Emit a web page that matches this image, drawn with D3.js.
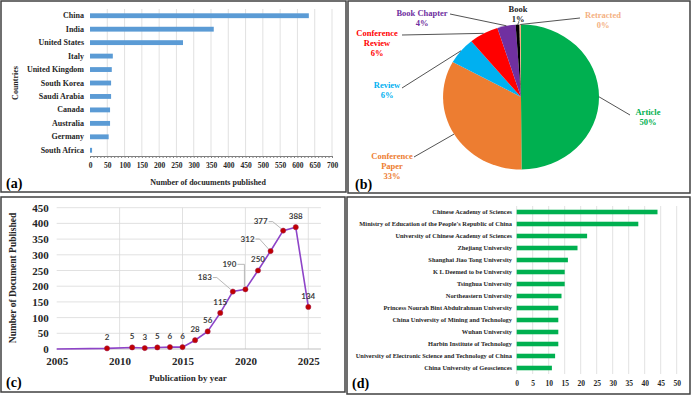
<!DOCTYPE html>
<html>
<head>
<meta charset="utf-8">
<script src="https://cdn.jsdelivr.net/npm/d3@7"></script>
<style>
  body { margin: 0; background: #fff; }
  svg text { font-family: "Liberation Serif", "Times New Roman", serif; font-weight: bold; }
</style>
</head>
<body>
<svg id="chart" width="692" height="397"></svg>
<script>
"use strict"

//---------------------------DATA-------------------------------//
// (a) documents per country
const countries = ["China", "India", "United States", "Italy", "United Kingdom", "South Korea",
    "Saudi Arabia", "Canada", "Australia", "Germany", "South Africa"];
const countryDocs = [633, 358, 269, 66, 63, 61, 61, 58, 58, 54, 6];
const countryTicks = [0, 50, 100, 150, 200, 250, 300, 350, 400, 450, 500, 550, 600, 650, 700];

// (b) document types (share of total, %)
const docTypes = ["Article", "Conference Paper", "Review", "Conference Review", "Book Chapter", "Book", "Retracted"];
const docShares = [49.9, 33.1, 6.0, 6.1, 3.8, 0.8, 0.3];
const docColors = ["#00b050", "#ed7d31", "#00b0f0", "#ff0000", "#7030a0", "#000000", "#f4b183"];

// (c) publications by year
const years = [2005, 2009, 2011, 2012, 2013, 2014, 2015, 2016, 2017, 2018, 2019, 2020, 2021, 2022, 2023, 2024, 2025];
const yearDocs = [0, 2, 5, 3, 5, 6, 6, 28, 56, 115, 183, 190, 250, 312, 377, 388, 134];
const yearTicks = [2005, 2010, 2015, 2020, 2025];
const docTicks = [0, 50, 100, 150, 200, 250, 300, 350, 400, 450];

// (d) documents per institution
const institutions = ["Chinese Academy of Sciences", "Ministry of Education of the People's Republic of China",
    "University of Chinese Academy of Sciences", "Zhejiang University", "Shanghai Jiao Tong University",
    "K L Deemed to be University", "Tsinghua University", "Northeastern University",
    "Princess Nourah Bint Abdulrahman University", "China University of Mining and Technology",
    "Wuhan University", "Harbin Institute of Technology",
    "University of Electronic Science and Technology of China", "China University of Geosciences"];
const instDocs = [44, 38, 22, 19, 16, 15, 15, 14, 13, 13, 13, 13, 12, 11];
const instTicks = [0, 5, 10, 15, 20, 25, 30, 35, 40, 45, 50];

//---------------------------LAYOUT-----------------------------//
const svg = d3.select("#chart");
const gridColor = "#d9d9d9";

// panel frames
const frames = [
    {x: 1, y: 1, w: 345, h: 191, tag: "(a)", tx: 6, ty: 188},
    {x: 348, y: 1, w: 342, h: 192, tag: "(b)", tx: 355, ty: 189},
    {x: 1, y: 197, w: 344, h: 195, tag: "(c)", tx: 6, ty: 387},
    {x: 347, y: 197, w: 343, h: 197, tag: "(d)", tx: 352, ty: 388}
];
svg.selectAll("rect.frame").data(frames).join("rect")
    .attr("class", "frame")
    .attr("x", d => d.x).attr("y", d => d.y)
    .attr("width", d => d.w).attr("height", d => d.h)
    .attr("fill", "none").attr("stroke", "#404040").attr("stroke-width", 1.5);
svg.selectAll("text.tag").data(frames).join("text")
    .attr("class", "tag")
    .attr("x", d => d.tx).attr("y", d => d.ty)
    .style("font-size", "14px")
    .text(d => d.tag);

//--------------------------(a) COUNTRIES-----------------------//
{
    const x = d3.scaleLinear().domain([0, 700]).range([90, 332]);
    const y = d3.scaleBand().domain(countries).range([9, 157]).paddingInner(0.64).paddingOuter(0.32);
    const g = svg.append("g");

    g.selectAll("line.grid").data(countryTicks.slice(1)).join("line")
        .attr("x1", d => x(d)).attr("x2", d => x(d))
        .attr("y1", 9).attr("y2", 156)
        .attr("stroke", gridColor).attr("stroke-width", 0.8);

    g.selectAll("rect.bar").data(countries).join("rect")
        .attr("x", x(0)).attr("y", d => y(d))
        .attr("width", (d, i) => x(countryDocs[i]) - x(0))
        .attr("height", y.bandwidth())
        .attr("fill", "#5b9bd5");

    // minor ticks along the axis
    const minor = g.append("g").attr("transform", "translate(0,156)")
        .call(d3.axisBottom(x).tickValues(d3.range(0, 701, 10)).tickSize(2).tickFormat(""));
    minor.select(".domain").attr("stroke", "#808080");
    minor.selectAll(".tick line").attr("stroke", "#808080");

    const xa = g.append("g").attr("transform", "translate(0,156)")
        .call(d3.axisBottom(x).tickValues(countryTicks).tickSize(0).tickPadding(7));
    xa.select(".domain").remove();
    xa.selectAll("text").style("font-size", "7.5px").style("font-family", null).attr("fill", "#262626");

    const ya = g.append("g").attr("transform", "translate(84,0)")
        .call(d3.axisLeft(y).tickSize(0).tickPadding(0));
    ya.select(".domain").remove();
    ya.selectAll("text").style("font-size", "8px").style("font-family", null).attr("fill", "#262626");

    g.append("text").attr("x", 208).attr("y", 185).attr("text-anchor", "middle")
        .style("font-size", "8px").attr("fill", "#262626").text("Number of docuuments published");
    g.append("text").attr("transform", "translate(18,83) rotate(-90)").attr("text-anchor", "middle")
        .style("font-size", "8px").attr("fill", "#262626").text("Countries");
}

//--------------------------(b) DOC TYPES-----------------------//
{
    const cx = 521, cy = 97, ry = 72.5, sx = 1.075;
    const pie = d3.pie().sort(null).value(d => d);
    const arcs = pie(docShares);
    const arc = d3.arc().innerRadius(0).outerRadius(ry);
    const g = svg.append("g").attr("transform", `translate(${cx},${cy}) scale(${sx},1)`);
    g.selectAll("path").data(arcs).join("path")
        .attr("d", arc)
        .attr("fill", (d, i) => docColors[i]);

    // label placement (text lines, leader end point)
    const labelLayout = [
        {x: 648, y: 112, lines: ["Article"], lx: 630, ly: 115},
        {x: 392, y: 156, lines: ["Conference", "Paper"], lx: 414, ly: 157},
        {x: 387, y: 85, lines: ["Review"], lx: 402, ly: 88},
        {x: 377, y: 33, lines: ["Conference", "Review"], lx: 402, ly: 35},
        {x: 422, y: 13, lines: ["Book Chapter"], lx: 450, ly: 14},
        {x: 518, y: 9, lines: ["Book"], lx: 519, ly: 22},
        {x: 603, y: 15, lines: ["Retracted"], lx: 580, ly: 18}
    ];
    const edge = (a) => [cx + ry * sx * Math.sin(a), cy - ry * Math.cos(a)];

    arcs.forEach((d, i) => {
        const lay = labelLayout[i];
        const mid = (d.startAngle + d.endAngle) / 2;
        const [ex, ey] = edge(mid);
        svg.append("line")
            .attr("x1", ex).attr("y1", ey).attr("x2", lay.lx).attr("y2", lay.ly)
            .attr("stroke", "#404040").attr("stroke-width", 0.9);
        const t = svg.append("text").attr("text-anchor", "middle")
            .attr("fill", i === 5 ? "#262626" : docColors[i])
            .style("font-size", "8.5px");
        const lines = lay.lines.concat([Math.round(d.data) + "%"]);
        lines.forEach((s, j) => {
            t.append("tspan").attr("x", lay.x).attr("y", lay.y + 3 + j * 10).text(s);
        });
    });
}

//--------------------------(c) BY YEAR-------------------------//
{
    const x = d3.scaleLinear().domain([2005, 2026]).range([56.7, 320.9]);
    const y = d3.scaleLinear().domain([0, 450]).range([349, 207.7]);
    const g = svg.append("g");

    g.selectAll("line.hgrid").data(docTicks.slice(1)).join("line")
        .attr("x1", x(2005)).attr("x2", x(2026))
        .attr("y1", d => y(d)).attr("y2", d => y(d))
        .attr("stroke", gridColor).attr("stroke-width", 0.8);
    g.selectAll("line.vgrid").data(yearTicks.slice(1)).join("line")
        .attr("x1", d => x(d)).attr("x2", d => x(d))
        .attr("y1", y(450)).attr("y2", y(0))
        .attr("stroke", gridColor).attr("stroke-width", 0.8);
    g.append("line").attr("x1", x(2005)).attr("x2", x(2026)).attr("y1", y(0)).attr("y2", y(0))
        .attr("stroke", "#bfbfbf").attr("stroke-width", 1);

    const xa = g.append("g").attr("transform", `translate(0,${y(0)})`)
        .call(d3.axisBottom(x).tickValues(yearTicks).tickFormat(d3.format("d")).tickSize(0).tickPadding(8));
    xa.select(".domain").remove();
    xa.selectAll("text").style("font-size", "11px").style("font-family", null).attr("fill", "#262626");

    const ya = g.append("g").attr("transform", `translate(${x(2005) - 8},0)`)
        .call(d3.axisLeft(y).tickValues(docTicks).tickSize(0).tickPadding(0));
    ya.select(".domain").remove();
    ya.selectAll("text").style("font-size", "11px").style("font-family", null).attr("fill", "#262626");

    const pts = years.map((yr, i) => ({yr, v: yearDocs[i]}));
    g.append("path").datum(pts)
        .attr("d", d3.line().x(d => x(d.yr)).y(d => y(d.v)))
        .attr("fill", "none").attr("stroke", "#8e44c8").attr("stroke-width", 1.6);

    const marked = pts.filter(d => d.v > 0);
    g.selectAll("circle").data(marked).join("circle")
        .attr("cx", d => x(d.yr)).attr("cy", d => y(d.v)).attr("r", 2.6)
        .attr("fill", "#c00000").attr("stroke", "#a0205a").attr("stroke-width", 0.5);

    // data-label centre offsets from the point; leader: "d" diagonal, "v" elbow down
    const labelOffset = {
        2019: [-28, -14, "d"], 2020: [-16, -25, "v"], 2022: [-23, -12, "d"], 2023: [-22.5, -9, "d"]
    };
    marked.forEach(d => {
        const [dx, dy, leader] = labelOffset[d.yr] || [0, -11];
        const px = x(d.yr), py = y(d.v);
        const lx = px + dx, ly = py + dy;
        if (leader) {
            const sx0 = lx + 8;
            g.append("path")
                .attr("d", leader === "v"
                    ? `M${sx0},${ly}H${px - 1}V${py - 3}`
                    : `M${sx0},${ly}H${sx0 + 4}L${px - 2},${py - 2}`)
                .attr("fill", "none").attr("stroke", "#a6a6a6").attr("stroke-width", 0.8);
        }
        g.append("text")
            .attr("x", lx).attr("y", ly).attr("dy", "0.35em")
            .attr("text-anchor", "middle")
            .style("font-family", "Lato, 'Liberation Sans', sans-serif")
            .style("font-size", "8px").attr("fill", "#404040")
            .text(d.v);
    });

    g.append("text").attr("x", 188).attr("y", 381).attr("text-anchor", "middle")
        .style("font-size", "9px").attr("fill", "#262626").text("Publicatiion by year");
    g.append("text").attr("transform", "translate(16,278) rotate(-90)").attr("text-anchor", "middle")
        .style("font-size", "9.5px").attr("fill", "#262626").text("Number of Document Published");
}

//-------------------------(d) INSTITUTIONS---------------------//
{
    const x = d3.scaleLinear().domain([0, 50]).range([516.7, 676.7]);
    const y = d3.scaleBand().domain(institutions).range([206, 374]).paddingInner(0.62).paddingOuter(0.31);
    const g = svg.append("g");

    g.selectAll("line.grid").data(instTicks).join("line")
        .attr("x1", d => x(d)).attr("x2", d => x(d))
        .attr("y1", 206).attr("y2", 374)
        .attr("stroke", gridColor).attr("stroke-width", 0.8);

    g.selectAll("rect.bar").data(institutions).join("rect")
        .attr("x", x(0)).attr("y", d => y(d))
        .attr("width", (d, i) => x(instDocs[i]) - x(0))
        .attr("height", y.bandwidth())
        .attr("fill", "#00b050");

    const xa = g.append("g").attr("transform", "translate(0,376)")
        .call(d3.axisBottom(x).tickValues(instTicks).tickSize(0).tickPadding(5));
    xa.select(".domain").remove();
    xa.selectAll("text").style("font-size", "7.5px").style("font-family", null).attr("fill", "#262626");

    const ya = g.append("g").attr("transform", "translate(512,0)")
        .call(d3.axisLeft(y).tickSize(0).tickPadding(0));
    ya.select(".domain").remove();
    ya.selectAll("text").style("font-size", "6.4px").style("font-family", null).attr("fill", "#262626");
}
</script>
</body>
</html>
